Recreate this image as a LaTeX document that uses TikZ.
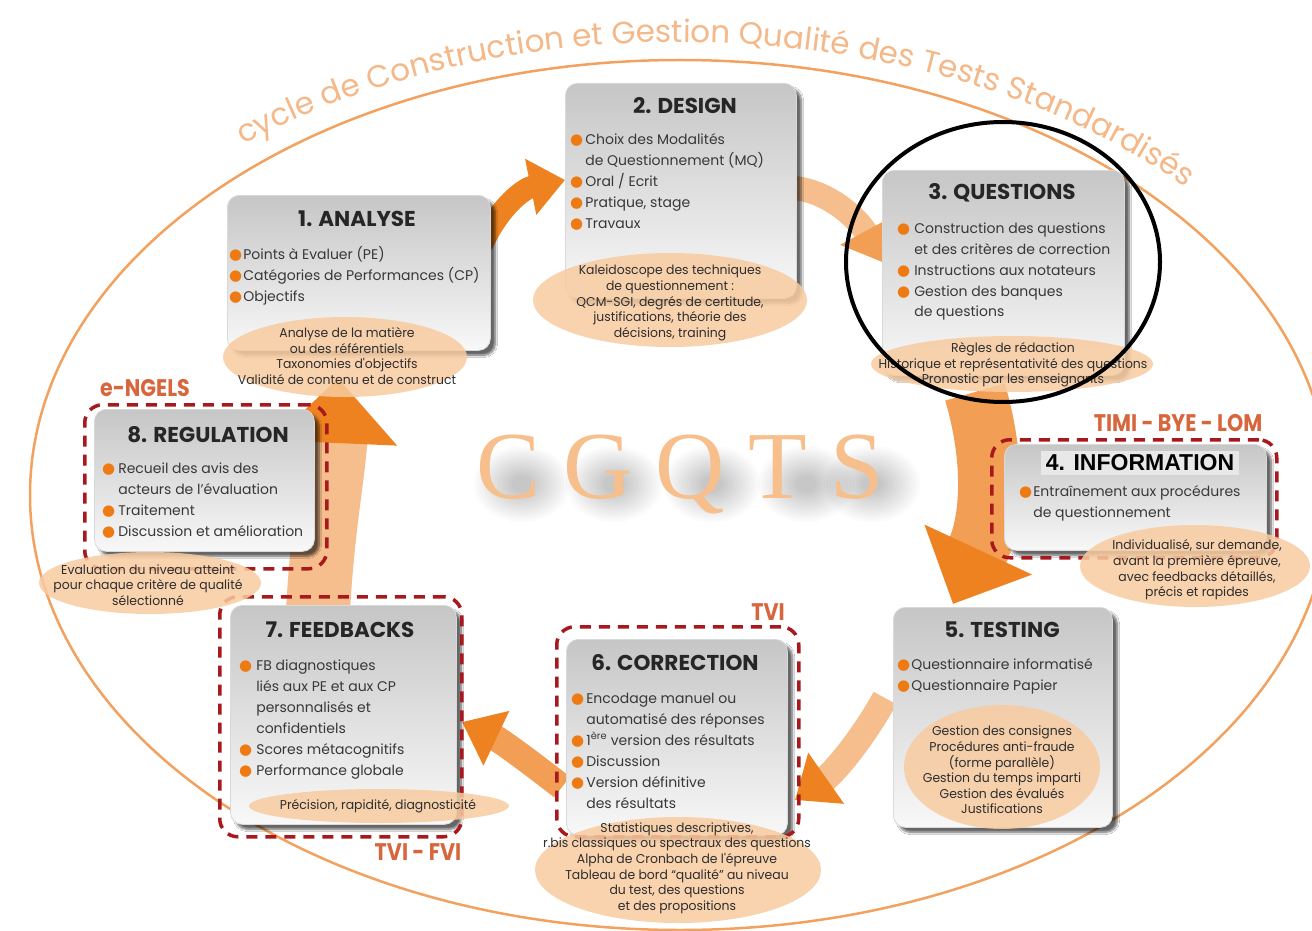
\documentclass[tikz,border=0pt]{standalone}
\usepackage{fontspec}
\setmainfont{Poppins}
\newfontfamily\notefont[FakeStretch=0.97]{Poppins}
\newfontfamily\labfont[FakeStretch=0.86]{Poppins}
\newfontfamily\arialfont{Liberation Sans}
\newfontfamily\cgfont[LetterSpace=24]{Liberation Serif}
\newfontfamily\symfont{DejaVu Sans}
\usetikzlibrary{arrows.meta,shapes.geometric,shadows.blur,decorations.text}
\definecolor{bulc}{HTML}{EE7A14}
\definecolor{peach}{HTML}{F8CBA0}
\definecolor{arcc}{HTML}{F5B888}
\definecolor{ringc}{HTML}{F2A25E}
\definecolor{dred}{HTML}{A8191E}
\definecolor{labc}{HTML}{D8663C}
\definecolor{cgc}{HTML}{F7BF8C}
\definecolor{boxtop}{HTML}{C6C6C6}
\definecolor{boxbot}{HTML}{F8F8F8}
\definecolor{aoD}{HTML}{EE8220}
\definecolor{aoM}{HTML}{F29E55}
\definecolor{aoL}{HTML}{F6BE8C}
\newcommand\bul{{\symfont\color{bulc}\fontsize{15}{15}\selectfont ●}}
\tikzset{
 box/.style={draw=black!15, line width=0.8pt, rounded corners=12pt, top color=boxtop, bottom color=boxbot, anchor=north west, inner sep=0pt,
   blur shadow={shadow xshift=5pt, shadow yshift=-5pt, shadow blur steps=8, shadow opacity=60}},
 ttl/.style={font=\fontsize{21.5}{24}\selectfont\bfseries, text=black!85, anchor=center, inner sep=0pt},
 lst/.style={font=\fontsize{14}{21}\selectfont, text=black!78, anchor=base west, inner sep=0pt},
 note/.style={ellipse, fill=peach, fill opacity=0.85, draw=none, inner sep=0pt},
 notetxt/.style={font=\notefont\fontsize{12.8}{15.6}\selectfont, text=black!82, align=center, inner sep=0pt},
 dframe/.style={draw=dred, line width=3.5pt, dash pattern=on 11pt off 8pt, rounded corners=18pt, anchor=north west, inner sep=0pt},
 lab/.style={font=\labfont\bfseries\fontsize{24}{24}\selectfont, text=labc, inner sep=0pt},
}
\begin{document}
\begin{tikzpicture}[x=1pt,y=-1pt]
\useasboundingbox (0,0) rectangle (1312,931);
\fill[white] (0,0) rectangle (1312,931);
% outer ring
\node[ellipse, draw=ringc, line width=2.5pt, minimum width=1300pt, minimum height=870pt, inner sep=0pt] (outer) at (680,495) {};
% arc title
\path[decorate, decoration={text along path, text align=center,
  text={|\fontsize{31}{31}\selectfont\color{arcc}|cycle de Construction et Gestion Qualité des Tests Standardisés}}]
  plot[domain=228:320, samples=90, smooth] ({680+690*cos(\x)},{497+455*sin(\x)});
% CGQTS soft shadow
\foreach \cx in {522,614,712,806,872}{
  \foreach \r in {1.0,0.94,...,0.2}{
    \fill[black, opacity=0.014] (\cx,484) ellipse [x radius=48*\r, y radius=38*\r];}}
\node[font=\cgfont\fontsize{96}{96}\selectfont, text=cgc, anchor=base] (cg) at (680,498) {CGQTS};
% arrow coordinates
\coordinate (a12s) at (482,245); \coordinate (a12e) at (565,180);
\coordinate (a23s) at (795,188); \coordinate (a23e) at (882,262);
\coordinate (a35s) at (975,392); \coordinate (a35e) at (953,604);
\coordinate (a56s) at (885,698); \coordinate (a56e) at (795,800);
\coordinate (a67s) at (562,787); \coordinate (a67e) at (462,722);
\coordinate (a71s) at (318,612); \coordinate (a71e) at (338,378);
% arrows
\draw[line width=22pt, aoD, -{Triangle[width=55pt,length=35pt,color=aoD]}] (a12s) .. controls (500,205) and (525,188) .. (a12e);
\draw[line width=24pt, aoL, -{Triangle[width=55pt,length=35pt,color=aoM]}] (a23s) .. controls (835,193) and (862,225) .. (a23e);
\draw[line width=62pt, aoM, -{Triangle[width=115pt,length=60pt,color=aoD]}] (a35s) .. controls (995,460) and (992,520) .. (a35e);
\draw[line width=26pt, aoL, -{Triangle[width=60pt,length=38pt,color=aoD]}] (a56s) .. controls (865,735) and (835,772) .. (a56e);
\draw[line width=26pt, aoM, -{Triangle[width=58pt,length=38pt,color=aoD]}] (a67s) .. controls (530,762) and (500,740) .. (a67e);
\draw[line width=64pt, aoL, -{Triangle[width=120pt,length=65pt,color=aoD]}] (a71s) .. controls (322,530) and (334,470) .. (a71e);
% boxes
\node[box, minimum width=263pt, minimum height=155pt] (b1) at (227,195) {};
\node[box, minimum width=231pt, minimum height=215pt] (b2) at (565,83) {};
\node[box, minimum width=242pt, minimum height=205pt] (b3) at (882,170) {};
\node[box, minimum width=262pt, minimum height=106pt] (b4) at (1004,444) {};
\node[box, minimum width=219pt, minimum height=220pt] (b5) at (893,607) {};
\node[box, minimum width=221pt, minimum height=196pt] (b6) at (566,639) {};
\node[box, minimum width=226pt, minimum height=219pt] (b7) at (230,605) {};
\node[box, minimum width=220pt, minimum height=142pt] (b8) at (94,409) {};
% titles
\node[ttl] (t1) at (357,219) {1. ANALYSE};
\node[ttl] (t2) at (685,106) {2. DESIGN};
\node[ttl] (t3) at (1002,193) {3. QUESTIONS};
\node[fill=black!9, inner xsep=5pt, inner ysep=4pt, font=\arialfont\bfseries\fontsize{23}{23}\selectfont] (t4) at (1140,463) {4. INFORMATION};
\node[ttl] (t5) at (1002,630) {5. TESTING};
\node[ttl] (t6) at (675,663) {6. CORRECTION};
\node[ttl] (t7) at (340,630) {7. FEEDBACKS};
\node[ttl] (t8) at (208,435) {8. REGULATION};
% lists
\node[lst] (l1) at (229,259) {\begin{tabular}[t]{@{}l@{\hspace{1pt}}l@{}}\bul&Points à Evaluer (PE)\\\bul&Catégories de Performances (CP)\\\bul&Objectifs\end{tabular}};
\node[lst] (l2) at (570,145) {\begin{tabular}[t]{@{}l@{\hspace{2pt}}l@{}}\bul&Choix des Modalités\\&de Questionnement (MQ)\\\bul&Oral / Ecrit\\\bul&Pratique, stage\\\bul&Travaux\end{tabular}};
\node[lst] (l3) at (897,233) {\begin{tabular}[t]{@{}l@{\hspace{4pt}}l@{}}\bul&Construction des questions\\&et des critères de correction\\\bul&Instructions aux notateurs\\\bul&Gestion des banques\\&de questions\end{tabular}};
\node[lst] (l4) at (1019,496) {\begin{tabular}[t]{@{}l@{\hspace{1pt}}l@{}}\bul&Entraînement aux procédures\\&de questionnement\end{tabular}};
\node[lst] (l5) at (897,669) {\begin{tabular}[t]{@{}l@{\hspace{1pt}}l@{}}\bul&Questionnaire informatisé\\\bul&Questionnaire Papier\end{tabular}};
\node[lst] (l6) at (571,703) {\begin{tabular}[t]{@{}l@{\hspace{2pt}}l@{}}\bul&Encodage manuel ou\\&automatisé des réponses\\\bul&1\textsuperscript{ère} version des résultats\\\bul&Discussion\\\bul&Version définitive\\&des résultats\end{tabular}};
\node[lst] (l7) at (239,670) {\begin{tabular}[t]{@{}l@{\hspace{4pt}}l@{}}\bul&FB diagnostiques\\&liés aux PE et aux CP\\&personnalisés et\\&confidentiels\\\bul&Scores métacognitifs\\\bul&Performance globale\end{tabular}};
\node[lst] (l8) at (102,473) {\begin{tabular}[t]{@{}l@{\hspace{3pt}}l@{}}\bul&Recueil des avis des\\&acteurs de l'évaluation\\\bul&Traitement\\\bul&Discussion et amélioration\end{tabular}};
% dashed frames
\node[dframe, minimum width=285pt, minimum height=118pt] (f4) at (990,438) {};
\node[dframe, minimum width=242pt, minimum height=210pt] (f6) at (555,625) {};
\node[dframe, minimum width=242pt, minimum height=240pt] (f7) at (218,595) {};
\node[dframe, minimum width=242pt, minimum height=164pt] (f8) at (83,403) {};
% labels
\node[lab] (g8) at (145,388) {e-NGELS};
\node[lab] (g4) at (1178,423) {TIMI - BYE - LOM};
\node[lab] (g6) at (768,612) {TVI};
\node[lab] (g7) at (418,852) {TVI - FVI};
% notes
\node[note, minimum width=244pt, minimum height=80pt] (e1) at (345,357) {};
\node[notetxt] (n1) at (347,356) {Analyse de la matière\\ou des référentiels\\Taxonomies d'objectifs\\Validité de contenu et de construct};
\node[note, minimum width=274pt, minimum height=94pt] (e2) at (670,300) {};
\node[notetxt] (n2) at (670,303) {Kaleidoscope des techniques\\de questionnement :\\QCM-SGI, degrés de certitude,\\justifications, théorie des\\décisions, training};
\node[note, minimum width=282pt, minimum height=56pt] (e3) at (1012,364) {};
\node[notetxt] (n3) at (1013,365) {Règles de rédaction\\Historique et représentativité des questions\\Pronostic par les enseignants};
\node[note, minimum width=230pt, minimum height=82pt] (e4) at (1195,566) {};
\node[notetxt] (n4) at (1197,570) {Individualisé, sur demande,\\avant la première épreuve,\\avec feedbacks détaillés,\\précis et rapides};
\node[note, minimum width=196pt, minimum height=124pt] (e5) at (1002,767) {};
\node[notetxt] (n5) at (1002,770) {Gestion des consignes\\Procédures anti-fraude\\(forme parallèle)\\Gestion du temps imparti\\Gestion des évalués\\Justifications};
\node[note, minimum width=286pt, minimum height=106pt] (e6) at (678,870) {};
\node[notetxt] (n6) at (677,868) {Statistiques descriptives,\\r.bis classiques ou spectraux des questions\\Alpha de Cronbach de l'épreuve\\Tableau de bord “qualité” au niveau\\du test, des questions\\et des propositions};
\node[note, minimum width=260pt, minimum height=34pt] (e7) at (379,806) {};
\node[notetxt] (n7) at (378,806) {Précision, rapidité, diagnosticité};
\node[note, minimum width=222pt, minimum height=62pt] (e8) at (150,583) {};
\node[notetxt] (n8) at (148,585) {Evaluation du niveau atteint\\pour chaque critère de qualité\\sélectionné};
% black ring
\node[ellipse, draw=black, line width=4pt, minimum width=314pt, minimum height=280pt, inner sep=0pt] (ring) at (1003,262) {};
\end{tikzpicture}
\end{document}
